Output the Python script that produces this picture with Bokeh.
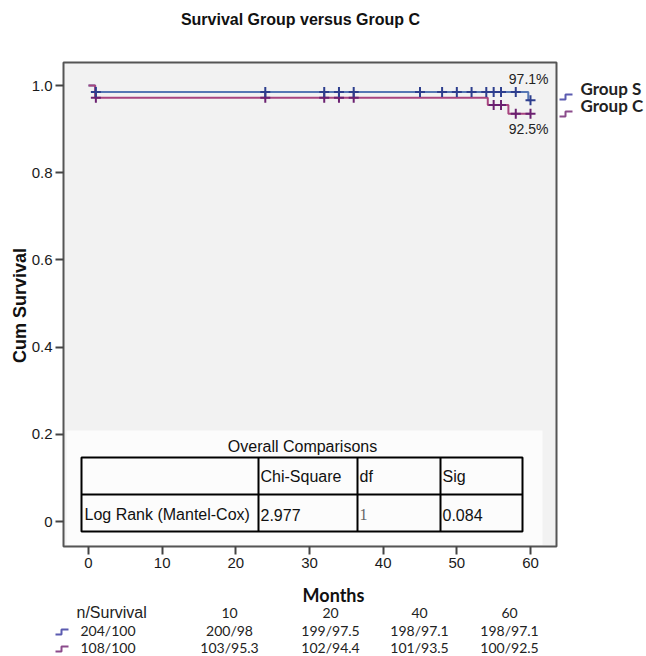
import numpy as np
from bokeh.plotting import figure
from bokeh.models import Label, FixedTicker, Range1d
from bokeh.embed import file_html
from bokeh.resources import INLINE

# ---------------- data ----------------
month_ticks = [0, 10, 20, 30, 40, 50, 60]
surv_ticks = [0, 0.2, 0.4, 0.6, 0.8, 1.0]
surv_tick_labels = ["0", "0.2", "0.4", "0.6", "0.8", "1.0"]

s_time = [0, 0.9, 59.7, 60]
s_surv = [1.0, 0.985, 0.966, 0.966]
c_time = [0, 0.9, 54.2, 57.0, 60]
c_surv = [1.0, 0.972, 0.955, 0.935, 0.935]

s_censor = [1, 24, 32, 34, 36, 45, 48, 50, 52, 54, 55, 56, 58, 60]
c_censor = [1, 24, 32, 34, 36, 55, 56, 58, 60]

final_labels = ["97.1%", "92.5%"]
group_names = ["Group S", "Group C"]

test_title = "Overall Comparisons"
test_headers = ["Chi-Square", "df", "Sig"]
test_row = ["Log Rank (Mantel-Cox)", "2.977", "1", "0.084"]

risk_header = "n/Survival"
risk_times = ["10", "20", "40", "60"]
risk_s = ["204/100", "200/98", "199/97.5", "198/97.1", "198/97.1"]
risk_c = ["108/100", "103/95.3", "102/94.4", "101/93.5", "100/92.5"]

# ---------------- style / layout ----------------
W, H = 646, 656
BLUE = "#5677b4"
BLUE_DK = "#2d3e8e"
PURP = "#a8447f"
PURP_DK = "#6b2070"
ICON_B = "#5b5bb0"
ICON_P = "#8b4b8b"
SANS = "Liberation Sans"
CAL = "Lato"

# pixel calibration of the plotting box
X0PX, PXM = 88.0, 442.0 / 60.0     # x pixel of month 0, pixels per month
Y0PX, PXS = 521.0, 436.0           # y pixel of survival 0, pixels per unit
FL, FR, FT, FB = 63, 556, 62, 546  # visible plot box (pixels)


def dx(xi):
    return (xi - X0PX) / PXM


def dy(yi):
    return (Y0PX - yi) / PXS


p = figure(width=W, height=H, output_backend="svg", toolbar_location=None,
           x_range=Range1d(dx(0), dx(W)), y_range=Range1d(dy(H), dy(0)),
           min_border_left=0, min_border_right=0, min_border_top=0,
           min_border_bottom=0)
p.background_fill_color = "white"
p.border_fill_color = "white"
p.outline_line_color = None
p.xgrid.visible = False
p.ygrid.visible = False

# visible plot box
p.quad(left=dx(FL), right=dx(FR), bottom=dy(FB), top=dy(FT),
       fill_color="#f2f2f2", line_color="#555555", line_width=2)
# white area behind the comparison table
p.quad(left=dx(66), right=dx(542), bottom=dy(FB - 1.5), top=dy(430),
       fill_color="#fcfcfc", line_color=None)

xa, ya = p.xaxis[0], p.yaxis[0]
xa.fixed_location = dy(FB)
ya.fixed_location = dx(FL)
xa.bounds = (dx(FL), dx(FR))
ya.bounds = (dy(FB), dy(FT))
for ax in (xa, ya):
    ax.axis_line_color = None
    ax.major_tick_out = 8
    ax.major_tick_in = 0
    ax.major_tick_line_color = "#444444"
    ax.major_tick_line_width = 2
    ax.minor_tick_line_color = None
    ax.major_label_text_font = SANS
    ax.major_label_text_font_size = "15px"
    ax.major_label_text_color = "#1a1a1a"
xa.ticker = FixedTicker(ticks=month_ticks)
xa.major_label_standoff = 3
ya.ticker = FixedTicker(ticks=surv_ticks)
ya.major_label_overrides = {t: l for t, l in zip(surv_ticks, surv_tick_labels)}
ya.major_label_standoff = 3

# survival curves
p.step(s_time, s_surv, mode="after", line_color=BLUE, line_width=2)
p.step(c_time, c_surv, mode="after", line_color=PURP, line_width=2)


def at(times, surv, t):
    i = np.searchsorted(times, t, side="right") - 1
    return surv[i]


p.scatter(c_censor, [at(c_time, c_surv, t) for t in c_censor], marker="cross",
          size=10, line_color=PURP_DK, line_width=2)
p.scatter(s_censor, [at(s_time, s_surv, t) for t in s_censor], marker="cross",
          size=10, line_color=BLUE_DK, line_width=2)

# comparison table (pixel layout)
TL, TR, TT, TM, TB = 81, 522, 457, 494, 531
VX = [258, 357, 440]
p.quad(left=dx(TL), right=dx(TR), bottom=dy(TB), top=dy(TT), fill_color=None,
       line_color="black", line_width=2)
p.segment(x0=[dx(TL)], y0=[dy(TM)], x1=[dx(TR)], y1=[dy(TM)], line_color="black", line_width=2)
p.segment(x0=[dx(v) for v in VX], y0=[dy(TB)] * 3, x1=[dx(v) for v in VX], y1=[dy(TT)] * 3,
          line_color="black", line_width=2)


def lab(xi, yi, text, align="left", font=SANS, size="16px", style="normal",
        color="#111111", angle=0.0):
    p.add_layout(Label(x=xi, y=H - yi, x_units="screen", y_units="screen", text=text,
                       text_align=align, text_baseline="middle", text_font=font,
                       text_font_size=size, text_font_style=style, text_color=color,
                       angle=angle))


lab(302, 446, test_title, align="center")
for v, h in zip(VX, test_headers):
    lab(v + 2, 476, h)
row_x = [TL + 3] + [v + 2 for v in VX]
for i, (xi, t) in enumerate(zip(row_x, test_row)):
    if i == 2:
        lab(xi, 514, t, font="Liberation Serif", color="#666666")
    else:
        lab(xi, 514, t)

# end-of-curve percentages
for yi, t in zip([78, 128], final_labels):
    lab(548, yi, t, align="right", size="14px", color="#222222")


def icon(x0, yc, color):
    xs = [dx(x0), dx(x0 + 6), dx(x0 + 6), dx(x0 + 13)]
    ys = [dy(yc + 3), dy(yc + 3), dy(yc - 2), dy(yc - 2)]
    p.line(xs, ys, line_color=color, line_width=2)


# legend (right of plot box)
for yi, name, col in zip([88, 105], group_names, [ICON_B, ICON_P]):
    icon(559, yi + 8, col)
    lab(580, yi, name, font=CAL, style="bold", size="17px", color="#222222")

# title and axis titles
lab(300, 19, "Survival Group versus Group C", align="center", style="bold", size="16px")
lab(19, 305, "Cum Survival", align="center", style="bold", size="18px", angle=np.pi / 2)
lab(333, 594, "Months", align="center", font=CAL, style="bold", size="18px")

# number-at-risk table
ROW_Y = [612, 630, 647]
COL_X = [229, 330, 419, 509]
lab(76, ROW_Y[0], risk_header, size="16px", color="#222222")
for xc, t in zip(COL_X, risk_times):
    lab(xc, ROW_Y[0], t, align="center", font=CAL, size="14px", color="#222222")
for yi, row, col in zip(ROW_Y[1:], [risk_s, risk_c], [ICON_B, ICON_P]):
    icon(55, yi + 1, col)
    lab(80, yi, row[0], font=CAL, size="14px", color="#222222")
    for xc, t in zip(COL_X, row[1:]):
        lab(xc, yi, t, align="center", font=CAL, size="14px", color="#222222")

open("out.html", "w").write(file_html(p, INLINE))
